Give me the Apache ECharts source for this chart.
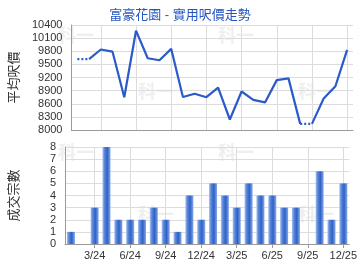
<!DOCTYPE html>
<html>
<head>
<meta charset="utf-8">
<script src="https://cdn.jsdelivr.net/npm/echarts@6/dist/echarts.min.js"></script>
<style>
html,body{margin:0;padding:0;background:#fff;}
#c{width:360px;height:270px;}
</style>
</head>
<body>
<div id="c"></div>
<script>
var titleText = '富豪花園 - 實用呎價走勢';
var months = ['1/24','2/24','3/24','4/24','5/24','6/24','7/24','8/24','9/24','10/24','11/24','12/24',
              '1/25','2/25','3/25','4/25','5/25','6/25','7/25','8/25','9/25','10/25','11/25','12/25'];
var avgPrice = [9620, 9620, 9840, 9790, 8750, 10270, 9640, 9595, 9855, 8755, 8830, 8750,
                8970, 8240, 8880, 8690, 8630, 9140, 9180, 8140, 8140, 8720, 9000, 9830];
// months with no transactions (price carried forward, drawn dotted)
var noDeal = [false, true, false, false, false, false, false, false, false, false, false, false,
              false, false, false, false, false, false, false, false, true, false, false, false];
var deals = [1, 0, 3, 8, 2, 2, 2, 3, 2, 1, 4, 2, 5, 4, 3, 5, 4, 4, 3, 3, 0, 6, 2, 5];
var priceTicks = {min: 8000, max: 10400, step: 300};
var dealTicks = {min: 0, max: 8, step: 1};
var watermarkText = '科一';

// Build solid segments and dotted segments
var solidSeries = [];
var dotted = months.map(function(){return null;});
var cur = null;
for (var i = 0; i < months.length; i++) {
  if (i > 0 && noDeal[i] && !noDeal[i-1]) {
    dotted[i-1] = avgPrice[i-1];
    dotted[i] = avgPrice[i];
    cur = null;
    continue;
  }
  if (cur === null) {
    cur = months.map(function(){return null;});
    solidSeries.push(cur);
    if (i > 0) cur[i-1] = avgPrice[i-1];
  }
  cur[i] = avgPrice[i];
}
solidSeries = solidSeries.filter(function(s){
  return s.filter(function(v){return v!==null;}).length > 1;
});

var lineColor = '#2a5bc8';
var fontFam = '"Liberation Sans", Arial, "Noto Sans CJK TC", sans-serif';
var every3 = function(idx){ return idx % 3 === 2; };

var series = [];
solidSeries.forEach(function(s){
  series.push({type:'line', xAxisIndex:0, yAxisIndex:0, data:s, symbol:'none',
    lineStyle:{color:lineColor, width:2.2}, connectNulls:false, animation:false, z:3});
});
series.push({type:'line', xAxisIndex:0, yAxisIndex:0, data:dotted, symbol:'none',
  lineStyle:{color:lineColor, width:2.2, type:[2,2]}, connectNulls:false, animation:false, z:3});
series.push({type:'bar', xAxisIndex:1, yAxisIndex:1, data:deals, barWidth:8, animation:false,
  itemStyle:{color:{type:'linear', x:0, y:0, x2:1, y2:0, colorStops:[
    {offset:0, color:'#a9c2ee'}, {offset:0.25, color:'#5a88da'},
    {offset:0.6, color:'#2f61c8'}, {offset:1, color:'#86a8e6'}]}}});

var plain = function(v){ return String(v); };

var wmSpots = [[58,26],[218,26],[138,82],[298,82],[58,143],[218,143],[138,205],[298,205]];
var graphics = wmSpots.map(function(p){
  return {type:'text', left:p[0], top:p[1], z:-10, silent:true,
    style:{text:watermarkText, fill:'#efefef', fontSize:18, fontWeight:'bold', fontFamily:'"Noto Sans CJK TC", sans-serif'}};
});

var chart = echarts.init(document.getElementById('c'), null, {renderer:'canvas'});
chart.setOption({
  animation:false,
  title:{text:titleText, left:'center', top:4,
    textStyle:{color:'#2456c2', fontSize:13, fontWeight:'normal', fontFamily:fontFam}},
  graphic:graphics,
  grid:[
    {left:65, right:7, top:25, height:105},
    {left:65, right:7, top:147, height:97}
  ],
  xAxis:[
    {type:'category', gridIndex:0, data:months, boundaryGap:true,
      axisLine:{lineStyle:{color:'#9a9a9a', width:1}},
      axisTick:{show:false}, axisLabel:{show:false},
      splitLine:{show:true, alignWithLabel:true, interval:every3, lineStyle:{color:'#dcdcdc', width:1}}},
    {type:'category', gridIndex:1, data:months, boundaryGap:true,
      axisLine:{lineStyle:{color:'#9a9a9a', width:1}},
      axisTick:{show:true, alignWithLabel:true, interval:every3, length:4, lineStyle:{color:'#9a9a9a'}},
      axisLabel:{interval:every3, color:'#333', fontSize:11, fontFamily:fontFam, margin:6},
      splitLine:{show:true, alignWithLabel:true, interval:every3, lineStyle:{color:'#dcdcdc', width:1}}}
  ],
  yAxis:[
    {type:'value', gridIndex:0, min:priceTicks.min, max:priceTicks.max, interval:priceTicks.step,
      name:'平均呎價', nameLocation:'middle', nameGap:44, nameRotate:90,
      nameTextStyle:{color:'#333', fontSize:13, fontFamily:fontFam},
      axisLine:{show:true, lineStyle:{color:'#9a9a9a'}}, axisTick:{show:false},
      axisLabel:{color:'#333', fontSize:11, fontFamily:fontFam, margin:9, formatter:plain},
      splitLine:{show:true, lineStyle:{color:'#dcdcdc'}}},
    {type:'value', gridIndex:1, min:dealTicks.min, max:dealTicks.max, interval:dealTicks.step,
      name:'成交宗數', nameLocation:'middle', nameGap:44, nameRotate:90,
      nameTextStyle:{color:'#333', fontSize:13, fontFamily:fontFam},
      axisLine:{show:true, lineStyle:{color:'#9a9a9a'}}, axisTick:{show:false},
      axisLabel:{color:'#333', fontSize:11, fontFamily:fontFam, margin:9, formatter:plain},
      splitLine:{show:true, lineStyle:{color:'#dcdcdc'}}}
  ],
  series:series
});
</script>
</body>
</html>
